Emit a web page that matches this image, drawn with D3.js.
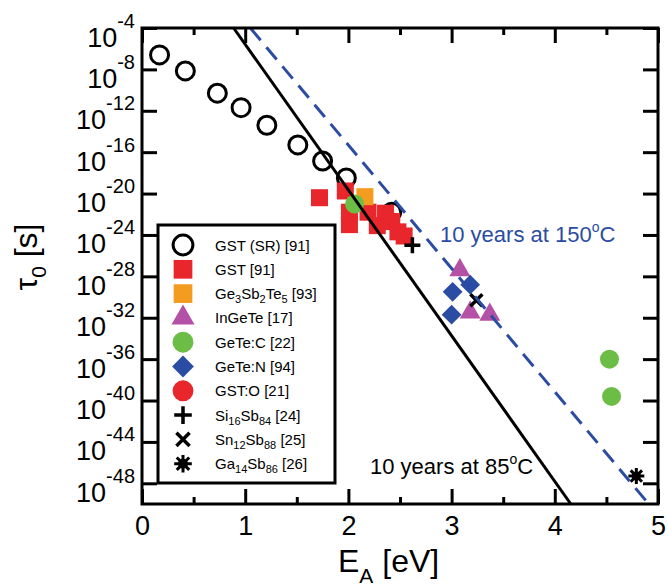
<!DOCTYPE html>
<html><head><meta charset="utf-8">
<script src="https://cdn.jsdelivr.net/npm/d3@7"></script>
<style>body{margin:0;background:#fff} svg{display:block;font-family:"Liberation Sans",Arial,Helvetica,sans-serif}</style>
</head><body><svg id="c" width="668" height="586"></svg>
<script>
// ---- data (E_A in eV, log10 of tau0 in s) ----
const xMajorTicks = [0, 1, 2, 3, 4, 5];
const xMinorTicks = [0.5, 1.5, 2.5, 3.5, 4.5];
const yTicks = [-4, -8, -12, -16, -20, -24, -28, -32, -36, -40, -44, -48];

const gstSR = [[0.17,-6.6],[0.42,-8.15],[0.73,-10.3],[0.96,-11.7],[1.21,-13.4],[1.51,-15.3],[1.75,-16.85],[1.98,-18.5],[2.42,-21.8]];
const gst = [[1.72,-20.4],[1.97,-19.75],[2.01,-21.8],[2.01,-23.0],[2.19,-21.8],[2.28,-23.1],[2.36,-21.9],[2.42,-22.7],[2.48,-23.7],[2.54,-24.1]];
const ge3sb2te5 = [[2.16,-20.3]];
const ingete = [[3.08,-27.4],[3.18,-31.5],[3.37,-31.7]];
const getec = [[2.06,-21.0],[4.53,-36.0],[4.55,-39.6]];
const geten = [[3.01,-29.5],[3.18,-28.8],[3.0,-31.7]];
const gsto = [];
const si16sb84 = [[2.62,-25.0]];
const sn12sb88 = [[3.24,-30.3]];
const ga14sb86 = [[4.79,-47.3]];

const line85 = [[0.888,-4],[4.155,-50]];
const line150 = [[1.05,-4],[4.91,-50]];

const legendLabels = ["GST (SR) [91]","GST [91]","Ge_3Sb_2Te_5 [93]","InGeTe [17]","GeTe:C [22]","GeTe:N [94]","GST:O [21]","Si_16Sb_84 [24]","Sn_12Sb_88 [25]","Ga_14Sb_86 [26]"];
const annot150 = "10 years at 150";
const annot85 = "10 years at 85";

// ---- styles ----
const RED = "#e8262b", ORANGE = "#f39c1f", MAGENTA = "#b451a6", GREEN = "#6cbd45", BLUE = "#2b4ca3";
const series = [
  {data: gstSR, type: "open", color: "#000"},
  {data: gst, type: "square", color: RED},
  {data: ge3sb2te5, type: "square", color: ORANGE},
  {data: ingete, type: "triangle", color: MAGENTA},
  {data: getec, type: "circle", color: GREEN},
  {data: geten, type: "diamond", color: BLUE},
  {data: gsto, type: "circle", color: RED},
  {data: si16sb84, type: "plus", color: "#000"},
  {data: sn12sb88, type: "x", color: "#000"},
  {data: ga14sb86, type: "star", color: "#000"}
];

const svg = d3.select("#c");
const L = 142, R = 658, T = 28, B = 504;
const x = d3.scaleLinear().domain([0, 5]).range([L, R]);
const y = d3.scaleLinear().domain([-50, -4]).range([B, T]);

function marker(g, type, color, s) {
  if (type === "open") {
    g.append("circle").attr("r", 9*s).attr("fill", "none").attr("stroke", "#000").attr("stroke-width", 3);
  } else if (type === "square") {
    g.append("rect").attr("x", -8.5*s).attr("y", -8.5*s).attr("width", 17*s).attr("height", 17*s).attr("fill", color);
  } else if (type === "triangle") {
    g.append("path").attr("d", d3.symbol(d3.symbolTriangle, 190*s*s)()).attr("fill", color);
  } else if (type === "circle") {
    g.append("circle").attr("r", 9.5*s).attr("fill", color);
  } else if (type === "diamond") {
    g.append("rect").attr("x", -7*s).attr("y", -7*s).attr("width", 14*s).attr("height", 14*s)
      .attr("transform", "rotate(45)").attr("fill", color);
  } else if (type === "plus") {
    g.append("path").attr("d", `M${-8*s},0H${8*s}M0,${-8*s}V${8*s}`).attr("stroke", color).attr("stroke-width", 3.5);
  } else if (type === "x") {
    g.append("path").attr("d", `M${-6*s},${-6*s}L${6*s},${6*s}M${-6*s},${6*s}L${6*s},${-6*s}`).attr("stroke", color).attr("stroke-width", 3.5);
  } else if (type === "star") {
    let d = "";
    for (let i = 0; i < 4; i++) {
      const a = i * Math.PI / 4, c = Math.cos(a) * 8 * s, sn = Math.sin(a) * 8 * s;
      d += `M${-c},${-sn}L${c},${sn}`;
    }
    g.append("path").attr("d", d).attr("stroke", color).attr("stroke-width", 3);
    g.append("circle").attr("r", 4.5*s).attr("fill", color);
  }
}

// ---- axes ----
function clean(g) { g.select(".domain").remove(); g.selectAll("line").attr("stroke", "#000").attr("stroke-width", 3); }

const gxB = svg.append("g").attr("transform", `translate(0,${B})`)
  .call(d3.axisBottom(x).tickValues(xMajorTicks).tickSizeInner(-15).tickSizeOuter(0).tickPadding(12).tickFormat(d3.format("d")));
clean(gxB);
gxB.attr("font-family", null);
gxB.selectAll("text").attr("font-size", 27).attr("fill", "#000");
const gxBm = svg.append("g").attr("transform", `translate(0,${B})`)
  .call(d3.axisBottom(x).tickValues(xMinorTicks).tickSizeInner(-7).tickSizeOuter(0).tickFormat(""));
clean(gxBm);
const gxT = svg.append("g").attr("transform", `translate(0,${T})`)
  .call(d3.axisTop(x).tickValues(xMajorTicks).tickSizeInner(-15).tickSizeOuter(0).tickFormat(""));
clean(gxT);
const gxTm = svg.append("g").attr("transform", `translate(0,${T})`)
  .call(d3.axisTop(x).tickValues(xMinorTicks).tickSizeInner(-7).tickSizeOuter(0).tickFormat(""));
clean(gxTm);

const gyL = svg.append("g").attr("transform", `translate(${L},0)`)
  .call(d3.axisLeft(y).tickValues(yTicks).tickSizeInner(-15).tickSizeOuter(0).tickPadding(7));
clean(gyL);
gyL.attr("font-family", null);
gyL.selectAll("text").each(function(d) {
  const t = d3.select(this).text(null).attr("dy", null).attr("y", 18).attr("fill", "#000").attr("text-anchor", "end");
  t.append("tspan").attr("font-size", 27).text("10");
  t.append("tspan").attr("font-size", 20).attr("dy", -19).text(String(d));
});
const gyR = svg.append("g").attr("transform", `translate(${R},0)`)
  .call(d3.axisRight(y).tickValues(yTicks).tickSizeInner(-15).tickSizeOuter(0).tickFormat(""));
clean(gyR);

// ---- data points ----
series.forEach(sr => {
  sr.data.forEach(p => {
    const g = svg.append("g").attr("transform", `translate(${x(p[0])},${y(p[1])})`);
    marker(g, sr.type, sr.color, 1);
  });
});

// ---- retention lines ----
const lineGen = d3.line().x(d => x(d[0])).y(d => y(d[1]));
svg.append("path").datum(line85).attr("d", lineGen).attr("fill", "none").attr("stroke", "#000").attr("stroke-width", 3);
svg.append("path").datum(line150).attr("d", lineGen).attr("fill", "none").attr("stroke", BLUE).attr("stroke-width", 3).attr("stroke-dasharray", "16,9");

// frame
svg.append("rect").attr("x", L).attr("y", T).attr("width", R - L).attr("height", B - T)
  .attr("fill", "none").attr("stroke", "#000").attr("stroke-width", 3);

// ---- annotations ----
function degText(txt, xx, yy, color) {
  const t = svg.append("text").attr("x", xx).attr("y", yy).attr("font-size", 22).attr("fill", color);
  t.append("tspan").text(txt);
  t.append("tspan").attr("font-size", 14).attr("dy", -10).text("o");
  t.append("tspan").attr("dy", 10).text("C");
}
degText(annot150, 440, 242, BLUE);
degText(annot85, 370, 474, "#000");

// ---- legend ----
const lg = svg.append("g");
lg.append("rect").attr("x", 158).attr("y", 225).attr("width", 177).attr("height", 258)
  .attr("fill", "#fff").attr("stroke", "#000").attr("stroke-width", 3);
legendLabels.forEach((lab, i) => {
  const cy = 245 + i * 24.3;
  const g = lg.append("g").attr("transform", `translate(183,${cy})`);
  marker(g, series[i].type, series[i].color, 1.1);
  const t = lg.append("text").attr("x", 215).attr("y", cy + 5.5).attr("font-size", 15).attr("fill", "#000");
  const parts = lab.split(/_(\d+)/);
  let shifted = false;
  parts.forEach((p, k) => {
    if (k % 2 === 1) {
      t.append("tspan").attr("font-size", 11).attr("dy", 4).text(p);
      shifted = true;
    } else if (p.length) {
      const ts = t.append("tspan").text(p);
      if (shifted) { ts.attr("dy", -4); shifted = false; }
    }
  });
});

// ---- axis titles ----
const xt = svg.append("text").attr("x", 338).attr("y", 572).attr("font-size", 32).attr("fill", "#000");
xt.append("tspan").text("E");
xt.append("tspan").attr("font-size", 21).attr("dy", 11).text("A");
xt.append("tspan").attr("dy", -11).text(" [eV]");

const yt = svg.append("text").attr("transform", "translate(37,257) rotate(-90)").attr("text-anchor", "middle")
  .attr("font-size", 32).attr("fill", "#000");
yt.append("tspan").text("τ");
yt.append("tspan").attr("font-size", 21).attr("dy", 9).text("0");
yt.append("tspan").attr("dy", -9).text(" [s]");
</script></body></html>
